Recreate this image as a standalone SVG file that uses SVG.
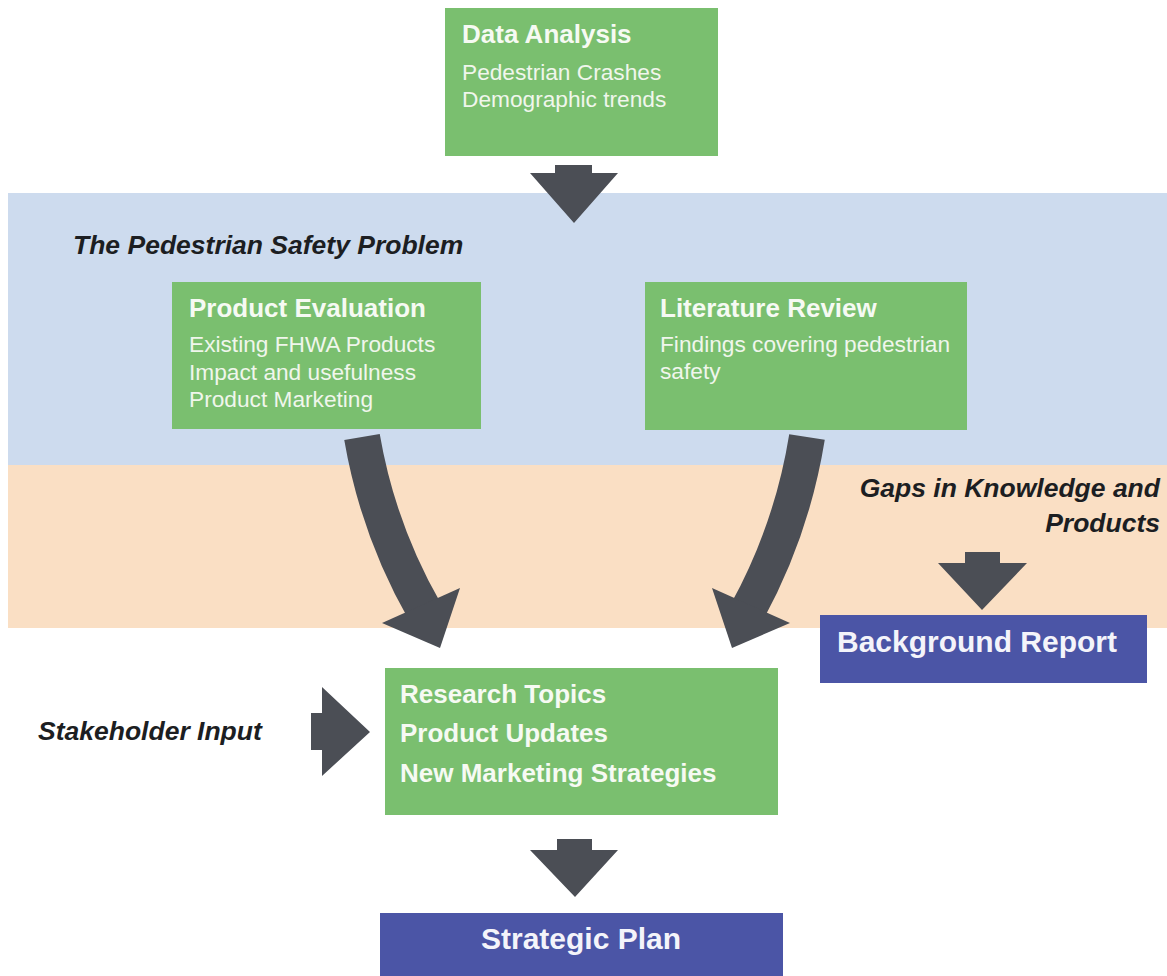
<svg xmlns="http://www.w3.org/2000/svg" width="1167" height="976" viewBox="0 0 1167 976">
<style>
.green{fill:#7abf6f}
.blue{fill:#4b55a6}
.arr{fill:#4b4e55}
.stem{fill:none;stroke:#4b4e55;stroke-width:36;stroke-linecap:butt}
.title{font-family:"Liberation Sans",Arial,sans-serif;font-weight:bold;font-size:26px;fill:#f6faf3}
.body{font-family:"Liberation Sans",Arial,sans-serif;font-size:22.7px;fill:#f0f6ec}
.big{font-family:"Liberation Sans",Arial,sans-serif;font-weight:bold;font-size:30px;fill:#f4f4fa}
.lab{font-family:"Liberation Sans",Arial,sans-serif;font-weight:bold;font-style:italic;font-size:26.5px;fill:#1c1e22}
</style>
<rect width="1167" height="976" fill="#ffffff"/>
<g id="bands">
<rect x="8" y="193" width="1159" height="272" fill="#cddbee"/>
<rect x="8" y="465" width="1159" height="163" fill="#fadfc4"/>
</g>
<g id="labels">
<text class="lab" x="73" y="254">The Pedestrian Safety Problem</text>
<text class="lab" x="1160" y="497" text-anchor="end">Gaps in Knowledge and</text>
<text class="lab" x="1160" y="532" text-anchor="end">Products</text>
<text class="lab" x="38" y="740">Stakeholder Input</text>
</g>
<g id="data-analysis">
<rect class="green" x="445" y="8" width="273" height="148"/>
<text class="title" x="462" y="43">Data Analysis</text>
<text class="body" x="462" y="80">Pedestrian Crashes</text>
<text class="body" x="462" y="107">Demographic trends</text>
</g>
<g id="product-evaluation">
<rect class="green" x="172" y="282" width="309" height="147"/>
<text class="title" x="189" y="317">Product Evaluation</text>
<text class="body" x="189" y="352">Existing FHWA Products</text>
<text class="body" x="189" y="380">Impact and usefulness</text>
<text class="body" x="189" y="407">Product Marketing</text>
</g>
<g id="literature-review">
<rect class="green" x="645" y="282" width="322" height="148"/>
<text class="title" x="660" y="317">Literature Review</text>
<text class="body" x="660" y="352">Findings covering pedestrian</text>
<text class="body" x="660" y="379">safety</text>
</g>
<g id="background-report">
<rect class="blue" x="820" y="615" width="327" height="68"/>
<text class="big" x="837" y="652">Background Report</text>
</g>
<g id="outcomes">
<rect class="green" x="385" y="668" width="393" height="147"/>
<text class="title" x="400" y="703">Research Topics</text>
<text class="title" x="400" y="742">Product Updates</text>
<text class="title" x="400" y="782">New Marketing Strategies</text>
</g>
<g id="strategic-plan">
<rect class="blue" x="380" y="913" width="403" height="63"/>
<text class="big" x="581" y="949" text-anchor="middle">Strategic Plan</text>
</g>
<g id="connectors">
<polygon class="arr" points="555,165 592,165 592,173 618,173 574,223 530,173 555,173"/>
<path class="stem" d="M362 437 Q378 530 425 612"/>
<polygon class="arr" points="382,623 460,588 440,648"/>
<path class="stem" d="M807 437 Q792 530 747 612"/>
<polygon class="arr" points="790,623 712,588 732,648"/>
<polygon class="arr" points="965,552 1000,552 1000,563 1027,563 982,610 938,563 965,563"/>
<polygon class="arr" points="311,713 322,713 322,687 370,732 322,776 322,750 311,750"/>
<polygon class="arr" points="557,839 592,839 592,850 618,850 575,897 530,850 557,850"/>
</g>
</svg>
